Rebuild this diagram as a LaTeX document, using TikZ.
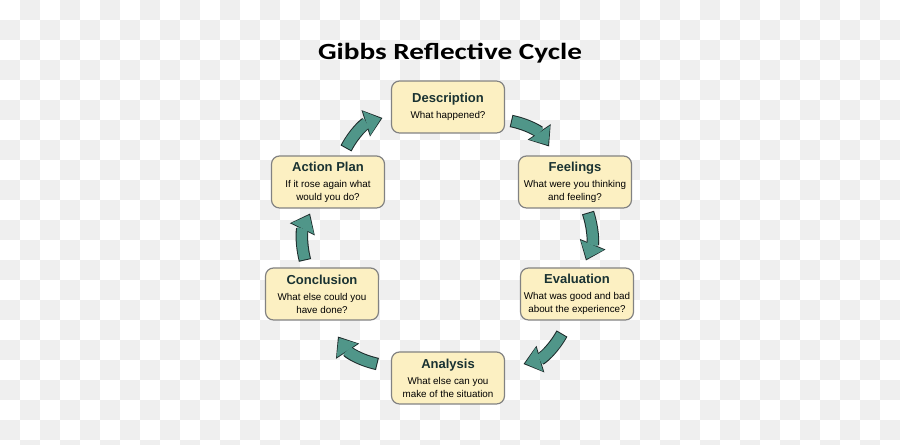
\documentclass[tikz,border=0pt]{standalone}
\usepackage{fontspec}
\setmainfont{Liberation Sans}
\newfontfamily\titlefont{Carlito}
\usepackage{graphicx}
\usetikzlibrary{arrows.meta,calc}
\definecolor{boxFill}{RGB}{252,240,194}
\definecolor{boxLine}{RGB}{130,130,130}
\definecolor{headText}{RGB}{25,50,50}
\definecolor{arrowTeal}{RGB}{80,150,137}
\definecolor{arrowEdge}{RGB}{28,42,42}
\definecolor{checkGray}{RGB}{239,239,239}

\newcommand\boxhead[1]{{\color{headText}\fontsize{7.4}{8.8}\selectfont\bfseries #1}\\[1.6pt]}

\tikzset{
  cyclebox/.style={draw=boxLine, fill=boxFill, line width=0.024cm,
    rounded corners=0.16cm, minimum width=2.26cm, minimum height=1.04cm,
    inner sep=0pt, align=center, font=\fontsize{5.6}{7.4}\selectfont},
  cyclearrow/.style={draw=arrowTeal, line width=0.21cm,
    -{Triangle[width=0.5cm, length=0.3cm, line width=0pt]},
    shorten <=0.02cm, shorten >=0.032cm,
    preaction={draw=arrowEdge, line width=0.25cm,
      -{Triangle[width=0.555cm, length=0.35cm, line width=0pt]},
      shorten <=0pt, shorten >=0pt}},
  titletext/.style={font=\titlefont\bfseries\fontsize{13.2}{15}\selectfont, inner sep=0pt}
}

\begin{document}
\begin{tikzpicture}[x=0.02cm, y=0.02cm]
  \useasboundingbox (0,0) rectangle (900,445);
  % checkerboard behind everything
  \begin{scope}
    \clip (0,0) rectangle (900,445);
    \fill[white] (0,0) rectangle (900,445);
    \foreach \i in {1,3,...,43}
      \foreach \j in {0,2,...,22}
        \fill[checkGray] (20*\i,445-20*\j) rectangle ++(20,-20);
    \foreach \i in {0,2,...,44}
      \foreach \j in {1,3,...,21}
        \fill[checkGray] (20*\i,445-20*\j) rectangle ++(20,-20);
  \end{scope}

  \node[titletext] (heading) at (450,392) {\scalebox{1.26}[1]{Gibbs Reflective Cycle}};

  % the six stages
  \node[cyclebox] (desc) at (448,338) {\boxhead{Description}What happened?};
  \node[cyclebox] (feel) at (575,263) {\boxhead{Feelings}What were you thinking\\and feeling?};
  \node[cyclebox] (eval) at (577,151) {\boxhead{Evaluation}What was good and bad\\about the experience?};
  \node[cyclebox] (anal) at (448,67) {\boxhead{Analysis}What else can you\\make of the situation};
  \node[cyclebox] (concl) at (322,151) {\boxhead{Conclusion}What else could you\\have done?};
  \node[cyclebox] (plan) at (328,263) {\boxhead{Action Plan}If it rose again what\\would you do?};

  % curved arrows round the cycle
  \draw[cyclearrow] ($(desc.east)+(6,-14)$) to[bend left=22] ($(feel.north)+(-26,9)$);
  \draw[cyclearrow] ($(feel.south)+(13,-4)$) to[bend left=20] ($(eval.north)+(9,7)$);
  \draw[cyclearrow] ($(eval.south)+(-15,-13)$) to[bend left=22] ($(anal.east)+(18.5,14)$);
  \draw[cyclearrow] ($(anal.west)+(-13.5,14)$) to[bend left=22] ($(concl.south)+(16,-16)$);
  \draw[cyclearrow] ($(concl.north)+(-17,7)$) to[bend left=20] ($(plan.south)+(-18,-5)$);
  \draw[cyclearrow] ($(plan.north)+(18,7)$) to[bend left=22] ($(desc.west)+(-8.5,-11)$);
\end{tikzpicture}
\end{document}
